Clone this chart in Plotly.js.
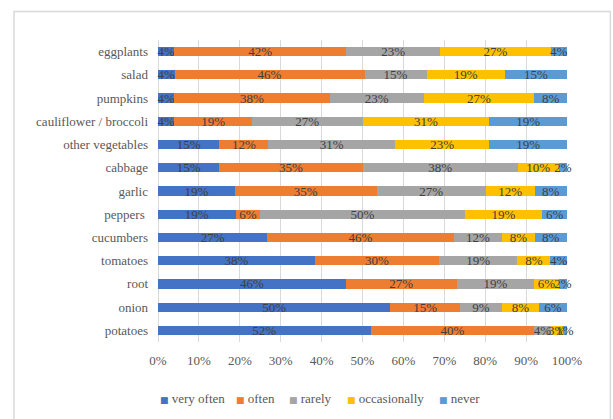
<!DOCTYPE html>
<html>
<head>
<meta charset="utf-8">
<script src="https://cdn.plot.ly/plotly-3.0.1.min.js"></script>
<style>
  html, body { margin: 0; padding: 0; background: #ffffff; }
  #chart { width: 613px; height: 419px; }
</style>
</head>
<body>
<div id="chart"></div>
<script>
// How often each vegetable is eaten (share of answers, %)
const vegetables = [
  'eggplants', 'salad', 'pumpkins', 'cauliflower / broccoli', 'other vegetables',
  'cabbage', 'garlic', 'peppers ', 'cucumbers', 'tomatoes', 'root', 'onion', 'potatoes'
];
const seriesNames = ['very often', 'often', 'rarely', 'occasionally', 'never'];
const seriesColors = ['#4472C4', '#ED7D31', '#A5A5A5', '#FFC000', '#5B9BD5'];

const veryOften    = [4, 4, 4, 4, 15, 15, 19, 19, 27, 38, 46, 50, 52];
const often        = [42, 46, 38, 19, 12, 35, 35, 6, 46, 30, 27, 15, 40];
const rarely       = [23, 15, 23, 27, 31, 38, 27, 50, 12, 19, 19, 9, 4];
const occasionally = [27, 19, 27, 31, 23, 10, 12, 19, 8, 8, 6, 8, 3];
const never        = [4, 15, 8, 19, 19, 2, 8, 6, 8, 4, 2, 6, 1];

const seriesValues = [veryOften, often, rarely, occasionally, never];
const xTicks = [0, 10, 20, 30, 40, 50, 60, 70, 80, 90, 100];

const serif = 'Liberation Serif, Times New Roman, serif';

const traces = seriesValues.map((vals, i) => ({
  type: 'bar',
  orientation: 'h',
  name: seriesNames[i],
  y: vegetables,
  x: vals,
  text: vals.map(v => v + '%'),
  textposition: 'inside',
  insidetextanchor: 'middle',
  textangle: 0,
  constraintext: 'none',
  cliponaxis: false,
  insidetextfont: { family: serif, size: 13, color: '#404040' },
  marker: { color: seriesColors[i], line: { width: 0 } },
  hoverinfo: 'skip',
  showlegend: false
}));

// Legend row along the bottom: coloured square followed by the series name
const legendX = [-0.0003, 0.1858, 0.3156, 0.4576, 0.6829];
const legendItems = seriesNames.map((name, i) => ({
  xref: 'paper', yref: 'paper',
  x: legendX[i], y: -0.187,
  xanchor: 'left', yanchor: 'middle',
  showarrow: false,
  text: '<span style="color:' + seriesColors[i] + ';font-family:DejaVu Sans;font-size:9px">■</span> ' + name,
  font: { family: serif, size: 13, color: '#595959' }
}));

const layout = {
  width: 613,
  height: 419,
  margin: { l: 158, r: 46, t: 40, b: 77 },
  paper_bgcolor: '#ffffff',
  plot_bgcolor: '#ffffff',
  barmode: 'stack',
  barnorm: 'percent',
  bargap: 0.6,
  showlegend: false,
  xaxis: {
    // tiny headroom so rows normalised to 100% are not treated as out of range
    range: [0, 100.001],
    tickvals: xTicks,
    ticktext: xTicks.map(t => t + '%'),
    showgrid: true,
    gridcolor: '#d9d9d9',
    gridwidth: 1,
    zeroline: true,
    zerolinecolor: '#d9d9d9',
    zerolinewidth: 1,
    showline: false,
    ticks: '',
    ticklabelstandoff: 9,
    tickfont: { family: serif, size: 13, color: '#595959' },
    fixedrange: true
  },
  yaxis: {
    autorange: 'reversed',
    showgrid: false,
    zeroline: false,
    showline: false,
    ticks: '',
    ticklabelstandoff: 9,
    tickfont: { family: serif, size: 13, color: '#595959' },
    fixedrange: true
  },
  annotations: legendItems,
  shapes: [{
    type: 'rect',
    xref: 'paper', yref: 'paper',
    x0: -0.352, x1: 1.106,
    y0: -0.4, y1: 1.094,
    line: { color: '#d9d9d9', width: 1.5 },
    fillcolor: 'rgba(0,0,0,0)',
    layer: 'below'
  }]
};

Plotly.newPlot('chart', traces, layout, { displayModeBar: false, staticPlot: true });
</script>
</body>
</html>
